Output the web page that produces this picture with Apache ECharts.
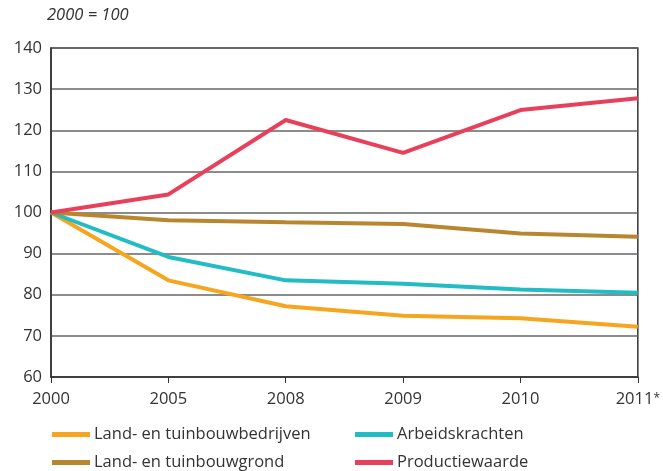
<!DOCTYPE html>
<html>
<head>
<meta charset="utf-8">
<script src="https://cdn.jsdelivr.net/npm/echarts@6/dist/echarts.min.js"></script>
<style>
  html, body { margin: 0; padding: 0; background: #fff; }
  #chart { width: 663px; height: 471px; }
</style>
</head>
<body>
<div id="chart"></div>
<script>
// categorieen en reeksen (2000 = 100)
const years = ["2000", "2005", "2008", "2009", "2010", "2011*"];
const bedrijven = [100, 83.5, 77.2, 74.9, 74.3, 72.2];
const grond = [100, 98.1, 97.6, 97.2, 94.9, 94.1];
const arbeid = [100, 89.2, 83.5, 82.7, 81.3, 80.5];
const productie = [100, 104.4, 122.5, 114.5, 124.9, 127.8];

const names = ["Land- en tuinbouwbedrijven", "Arbeidskrachten", "Land- en tuinbouwgrond", "Productiewaarde"];
const colors = ["#f6a51f", "#22bcc4", "#b8862f", "#e8405b"];
const font = "Open Sans";
const fs = 16.5;

const chart = echarts.init(document.getElementById("chart"));

function line(name, data, color) {
  return {
    name: name,
    type: "line",
    data: data,
    symbol: "none",
    color: color,
    lineStyle: { width: 4, color: color }
  };
}

// een legenda per item, 2 kolommen x 2 rijen
function legend(name, left, top) {
  return {
    left: left,
    top: top,
    data: [name],
    itemWidth: 38,
    itemHeight: 5,
    itemGap: 0,
    padding: 0,
    icon: "rect",
    selectedMode: false,
    textStyle: { fontFamily: font, fontSize: fs, color: "#333", padding: [0, 0, 0, -1] }
  };
}

chart.setOption({
  animation: false,
  title: {
    text: "2000 = 100",
    left: 47,
    top: 7,
    padding: 0,
    textStyle: { fontFamily: font, fontSize: fs, fontStyle: "italic", fontWeight: "normal", color: "#333" }
  },
  legend: [
    legend(names[0], 52, 426),
    legend(names[1], 355, 426),
    legend(names[2], 52, 454),
    legend(names[3], 355, 454)
  ],
  grid: {
    left: 51,
    right: 25,
    top: 48,
    bottom: 94,
    show: true,
    borderColor: "#333",
    borderWidth: 1.5
  },
  xAxis: {
    type: "category",
    data: years,
    boundaryGap: false,
    axisLine: { lineStyle: { color: "#333", width: 1.5 } },
    axisTick: { show: true, length: 6, lineStyle: { color: "#333" } },
    axisLabel: {
      color: "#333",
      margin: 12,
      formatter: function (v) {
        return v.indexOf("*") >= 0 ? "{n|" + v.replace("*", "") + "}{s|*}" : "{n|" + v + "}";
      },
      rich: {
        n: { fontFamily: font, fontSize: fs, color: "#333", height: 20, lineHeight: 20 },
        s: { fontFamily: font, fontSize: 12, color: "#333", height: 20, lineHeight: 12, verticalAlign: "top" }
      }
    }
  },
  yAxis: {
    type: "value",
    min: 60,
    max: 140,
    interval: 10,
    axisLine: { show: true, lineStyle: { color: "#333", width: 1.5 } },
    axisTick: { show: false },
    axisLabel: { fontFamily: font, fontSize: fs, color: "#333", margin: 9 },
    splitLine: { lineStyle: { color: "#666", width: 1.5 } }
  },
  series: [
    line(names[0], bedrijven, colors[0]),
    line(names[1], arbeid, colors[1]),
    line(names[2], grond, colors[2]),
    line(names[3], productie, colors[3])
  ]
});
</script>
</body>
</html>
